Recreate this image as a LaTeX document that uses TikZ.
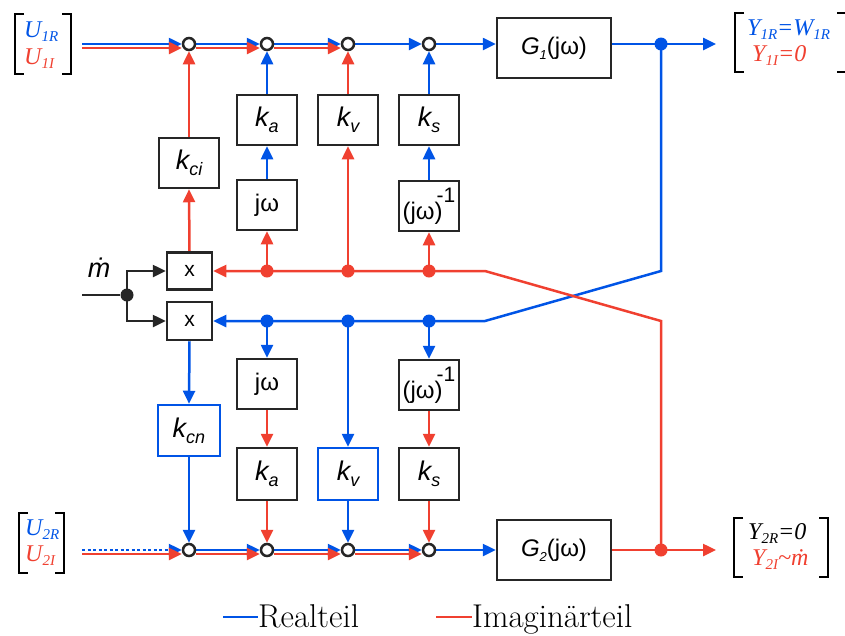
\documentclass[tikz,border=0pt]{standalone}
\usepackage{fontspec}
\newfontfamily\arial{Liberation Sans}
\newfontfamily\tnr{Liberation Serif}
\usetikzlibrary{arrows.meta,backgrounds}
\definecolor{bl}{RGB}{0,84,230}
\definecolor{rd}{RGB}{240,64,48}
\definecolor{dk}{RGB}{38,38,38}
\newcommand\kk[1]{{\itshape k\raisebox{-6pt}{\fontsize{18}{18}\selectfont #1}}}
\newcommand\ssub[2]{#1\raisebox{-4pt}{\fontsize{15}{15}\selectfont #2}}
\newcommand\jwinv{(jω)\hspace{-6pt}\raisebox{17pt}{\fontsize{21}{21}\selectfont -1}}
\begin{document}
\begin{tikzpicture}[x=1pt,y=-1pt,
  blk/.style={draw=dk, line width=2.5pt, fill=white, minimum width=60pt, minimum height=50pt, inner sep=0pt, font=\arial\fontsize{27}{27}\selectfont},
  jwf/.style={font=\arial\fontsize{24}{24}\selectfont},
  sum/.style={circle, draw=dk, line width=2.5pt, fill=white, minimum size=12pt, inner sep=0pt},
  dotb/.style={circle, fill=bl, minimum size=13pt, inner sep=0pt},
  dotr/.style={circle, fill=rd, minimum size=13pt, inner sep=0pt},
  dotk/.style={circle, fill=dk, minimum size=13pt, inner sep=0pt},
  arr/.style={-{Triangle[length=13pt,width=12pt]}},
  bline/.style={draw=bl, line width=2.5pt},
  rline/.style={draw=rd, line width=2.5pt},
  kline/.style={draw=dk, line width=2.5pt},
  brk/.style={draw=black, line width=2pt},
  lab/.style={anchor=base west, inner sep=0pt, font=\tnr\itshape\fontsize{24}{24}\selectfont},
]
\useasboundingbox (0,0) rectangle (845,635);

% top row
\node[sum] (j1) at (189,44) {};
\node[sum] (j2) at (267,44) {};
\node[sum] (j3) at (348,44) {};
\node[sum] (j4) at (429,44) {};
\node[blk, minimum width=114pt, minimum height=60pt, font=\arial\fontsize{24}{24}\selectfont] (G1) at (554,48) {{\itshape G\raisebox{-5pt}{\fontsize{13}{13}\selectfont 1}}(jω)};
\node[blk] (kci) at (189,163) {\kk{ci}};
\node[blk] (ka1) at (267,120) {\kk{a}};
\node[blk] (kv1) at (348,120) {\kk{v}};
\node[blk] (ks1) at (429,120) {\kk{s}};
\node[blk, jwf] (jw1) at (267,205) {jω};
\node[blk, jwf] (jwi1) at (429,206) {\jwinv};

% multipliers
\node[blk, minimum width=45pt, minimum height=37pt, font=\arial\fontsize{21}{21}\selectfont] (mx1) at (189.5,271) {x};
\node[blk, minimum width=45pt, minimum height=38pt, font=\arial\fontsize{21}{21}\selectfont] (mx2) at (189.5,321) {x};
\node[dotr] (rd1) at (267,271) {};
\node[dotr] (rd2) at (348,271) {};
\node[dotr] (rd3) at (429,271) {};
\node[dotb] (bd1) at (267,321) {};
\node[dotb] (bd2) at (348,321) {};
\node[dotb] (bd3) at (429,321) {};
\node[dotk] (mdot) at (127,295) {};
\node[anchor=center, inner sep=0pt, font=\arial\itshape\fontsize{27}{27}\selectfont] (mlab) at (99,268) {\.{m}};

% lower boxes
\node[blk, jwf] (jw2) at (267,384) {jω};
\node[blk, jwf] (jwi2) at (429,385) {\jwinv};
\node[blk, draw=bl, minimum width=62pt, minimum height=51pt] (kcn) at (189,430.5) {\kk{cn}};
\node[blk, minimum height=52pt] (ka2) at (267,474) {\kk{a}};
\node[blk, draw=bl, minimum height=52pt] (kv2) at (348,474) {\kk{v}};
\node[blk, minimum height=52pt] (ks2) at (429,474) {\kk{s}};

% bottom row
\node[sum] (i1) at (189,550) {};
\node[sum] (i2) at (267,550) {};
\node[sum] (i3) at (348,550) {};
\node[sum] (i4) at (429,550) {};
\node[blk, minimum width=114pt, minimum height=60pt, font=\arial\fontsize{24}{24}\selectfont] (G2) at (554,550) {{\itshape G\raisebox{-5pt}{\fontsize{13}{13}\selectfont 2}}(jω)};

% output dots and coordinates
\node[dotb] (o1) at (661,44) {};
\node[dotr] (o2) at (661,550) {};
\coordinate (out1) at (716,44);
\coordinate (out2) at (716,550);
\coordinate (in1) at (82,44);
\coordinate (in2) at (82,550);
\coordinate (min) at (82,295);
\coordinate (x1) at (661,271);
\coordinate (x2) at (485,321);
\coordinate (x3) at (661,321);
\coordinate (x4) at (485,271);

\begin{scope}[on background layer]
% top row lines
\draw[bline,arr] (in1) -- (j1);
\draw[rline,arr] ([yshift=-4pt]in1) -- ([yshift=-4pt]j1.west);
\draw[bline,arr] (j1) -- (j2);
\draw[rline,arr] ([yshift=-4pt]j1.east) -- ([yshift=-4pt]j2.west);
\draw[bline,arr] (j2) -- (j3);
\draw[rline,arr] ([yshift=-4pt]j2.east) -- ([yshift=-4pt]j3.west);
\draw[bline,arr] (j3) -- (j4);
\draw[bline,arr] (j4) -- (j4 -| G1.west);
\draw[bline,arr] (j4 -| G1.east) -- (out1);
% bottom row lines
\draw[bline,arr,dash pattern=on 3pt off 2.5pt] (in2) -- (i1);
\draw[rline,arr] ([yshift=-4pt]in2) -- ([yshift=-4pt]i1.west);
\draw[bline,arr] (i1) -- (i2);
\draw[rline,arr] ([yshift=-4pt]i1.east) -- ([yshift=-4pt]i2.west);
\draw[bline,arr] (i2) -- (i3);
\draw[rline,arr] ([yshift=-4pt]i2.east) -- ([yshift=-4pt]i3.west);
\draw[bline,arr] (i3) -- (i4);
\draw[rline,arr] ([yshift=-4pt]i3.east) -- ([yshift=-4pt]i4.west);
\draw[bline,arr] (i4) -- (i4 -| G2.west);
\draw[rline,arr] (i4 -| G2.east) -- (out2);
% cross feedback
\draw[bline,arr] (o1.center) -- (x1) -- (x2) -- (mx2.east);
\draw[rline,arr] (o2.center) -- (x3) -- (x4) -- (mx1.east);
% mdot
\draw[kline] (min) -- (mdot);
\draw[kline,arr] (mdot.center) |- (mx1.west);
\draw[kline,arr] (mdot.center) |- (mx2.west);
% upper verticals
\draw[rline,arr] (mx1.north) -- (kci.south);
\draw[rline,arr] (kci.north) -- (j1.south);
\draw[rline,arr] (rd1.center) -- (jw1.south);
\draw[bline,arr] (jw1.north) -- (ka1.south);
\draw[bline,arr] (ka1.north) -- (j2.south);
\draw[rline,arr] (rd2.center) -- (kv1.south);
\draw[rline,arr] (kv1.north) -- (j3.south);
\draw[rline,arr] (rd3.center) -- (jwi1.south);
\draw[bline,arr] (jwi1.north) -- (ks1.south);
\draw[bline,arr] (ks1.north) -- (j4.south);
% lower verticals
\draw[bline,arr] (mx2.south) -- (kcn.north);
\draw[bline,arr] (kcn.south) -- (i1.north);
\draw[bline,arr] (bd1.center) -- (jw2.north);
\draw[rline,arr] (jw2.south) -- (ka2.north);
\draw[rline,arr] (ka2.south) -- (i2.north);
\draw[bline,arr] (bd2.center) -- (kv2.north);
\draw[bline,arr] (kv2.south) -- (i3.north);
\draw[bline,arr] (bd3.center) -- (jwi2.north);
\draw[rline,arr] (jwi2.south) -- (ks2.north);
\draw[rline,arr] (ks2.south) -- (i4.north);
\end{scope}

% brackets
\draw[brk] (24,14) -- (15,14) -- (15,74) -- (24,74);
\draw[brk] (62,14) -- (71,14) -- (71,74) -- (62,74);
\draw[brk] (28,513) -- (19,513) -- (19,573) -- (28,573);
\draw[brk] (55,513) -- (64,513) -- (64,573) -- (55,573);
\draw[brk] (744,13) -- (735,13) -- (735,72) -- (744,72);
\draw[brk] (837,13) -- (846,13);
\draw[brk] (837,72) -- (846,72);
\draw[brk] (743,518) -- (734,518) -- (734,577) -- (743,577);
\draw[brk] (819,518) -- (828,518) -- (828,577) -- (819,577);

% bracket labels
\node[lab, text=bl] at (24,37) {\ssub{U}{1R}};
\node[lab, text=rd] at (24,64) {\ssub{U}{1I}};
\node[lab, text=bl] at (25,535) {\ssub{U}{2R}};
\node[lab, text=rd] at (25,561) {\ssub{U}{2I}};
\node[lab, text=bl] at (747,35) {\ssub{Y}{1R}=\ssub{W}{1R}};
\node[lab, text=rd] at (752,61) {\ssub{Y}{1I}=0};
\node[lab, text=black] at (748,539) {\ssub{Y}{2R}=0};
\node[lab, text=rd] at (752,565) {\ssub{Y}{2I}\textasciitilde\.{m}};

% legend
\node[anchor=base west, inner sep=0pt, font=\fontsize{33}{33}\selectfont] (lg1) at (258,627) {Realteil};
\node[anchor=base west, inner sep=0pt, font=\fontsize{33}{33}\selectfont] (lg2) at (472,627) {Imaginärteil};
\coordinate (lg1s) at (223,617);
\coordinate (lg2s) at (436,617);
\draw[draw=bl, line width=1.5pt] (lg1s) -- (lg1s -| lg1.west);
\draw[draw=rd, line width=1.5pt] (lg2s) -- (lg2s -| lg2.west);
\end{tikzpicture}
\end{document}
